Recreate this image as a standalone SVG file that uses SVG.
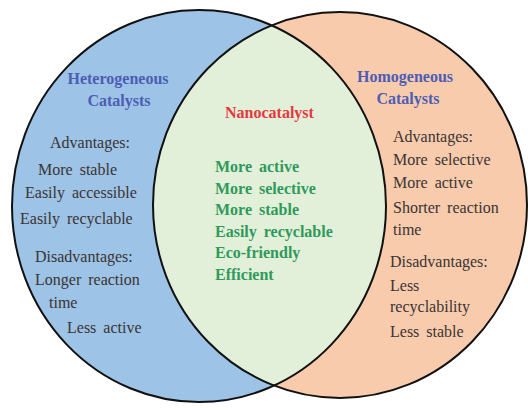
<svg xmlns="http://www.w3.org/2000/svg" width="528" height="410" viewBox="0 0 528 410" font-family="'Liberation Serif', 'Times New Roman', 'DejaVu Serif', serif">
<style>
text{font-family:"Liberation Serif","Times New Roman","DejaVu Serif",serif;font-size:16px}
.title{font-weight:bold;fill:#4d5db4;text-anchor:middle}
.body{fill:#3a3433;word-spacing:3px}
.nano{font-weight:bold;fill:#e5383f}
.green{font-weight:bold;fill:#2f9a5c;word-spacing:3px}
.edge{fill:none;stroke:#111;stroke-width:2}
</style>
<defs>
<clipPath id="clipL"><ellipse cx="199" cy="206" rx="187" ry="196"/></clipPath>
</defs>
<rect width="528" height="410" fill="#fff"/>
<g id="heterogeneous">
<ellipse cx="199" cy="206" rx="187" ry="196" fill="#9dc3e6"/>
</g>
<g id="homogeneous">
<ellipse cx="340" cy="205" rx="187" ry="193" fill="#f8cbad"/>
</g>
<g id="nanocatalyst">
<ellipse cx="340" cy="205" rx="187" ry="193" fill="#e2f0d9" clip-path="url(#clipL)"/>
</g>
<g id="outlines">
<ellipse class="edge" cx="199" cy="206" rx="187" ry="196"/>
<ellipse class="edge" cx="340" cy="205" rx="187" ry="193"/>
</g>
<g id="heterogeneous-text">
<text class="title" x="118" y="84">Heterogeneous</text>
<text class="title" x="119" y="106">Catalysts</text>
<text class="body" x="50" y="148">Advantages:</text>
<text class="body" x="38" y="175">More stable</text>
<text class="body" x="25" y="198">Easily accessible</text>
<text class="body" x="20" y="224">Easily recyclable</text>
<text class="body" x="35" y="262">Disadvantages:</text>
<text class="body" x="35" y="285">Longer reaction</text>
<text class="body" x="49" y="308">time</text>
<text class="body" x="67" y="333">Less active</text>
</g>
<g id="nanocatalyst-text">
<text class="nano" x="225" y="118">Nanocatalyst</text>
<text class="green" x="215" y="172">More active</text>
<text class="green" x="215" y="194">More selective</text>
<text class="green" x="215" y="215">More stable</text>
<text class="green" x="215" y="237">Easily recyclable</text>
<text class="green" x="215" y="258">Eco-friendly</text>
<text class="green" x="215" y="280">Efficient</text>
</g>
<g id="homogeneous-text">
<text class="title" x="405" y="82">Homogeneous</text>
<text class="title" x="408" y="104">Catalysts</text>
<text class="body" x="393" y="142">Advantages:</text>
<text class="body" x="393" y="165">More selective</text>
<text class="body" x="393" y="188">More active</text>
<text class="body" x="393" y="213">Shorter reaction</text>
<text class="body" x="393" y="235">time</text>
<text class="body" x="390" y="267">Disadvantages:</text>
<text class="body" x="390" y="291">Less</text>
<text class="body" x="390" y="312">recyclability</text>
<text class="body" x="390" y="337">Less stable</text>
</g>
</svg>
